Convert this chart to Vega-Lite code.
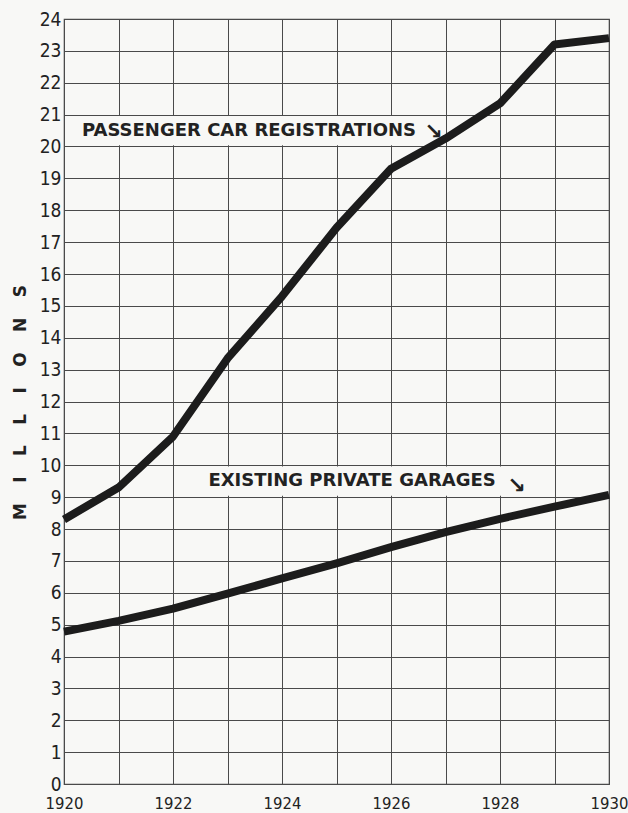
{
  "$schema": "https://vega.github.io/schema/vega-lite/v6.json",
  "width": 545,
  "height": 765,
  "autosize": {"type": "none"},
  "padding": {"left": 64, "top": 19, "right": 19, "bottom": 29},
  "background": "#f8f8f6",
  "config": {
    "view": {"stroke": "#4a4a4a", "strokeWidth": 1.2},
    "axis": {
      "grid": true,
      "gridColor": "#4a4a4a", "gridOpacity": 1, "gridWidth": 1,
      "domain": false, "ticks": false, "labelFlush": false, "labelOverlap": false,
      "labelFont": "DejaVu Sans Condensed", "labelColor": "#222"
    },
    "axisY": {"tickCount": 30},
    "axisX": {"tickCount": 20}
  },
  "datasets": {
    "series": [
      {"year": 1920, "value": 8.3, "series": "Passenger Car Registrations"},
      {"year": 1921, "value": 9.3, "series": "Passenger Car Registrations"},
      {"year": 1922, "value": 10.9, "series": "Passenger Car Registrations"},
      {"year": 1923, "value": 13.35, "series": "Passenger Car Registrations"},
      {"year": 1924, "value": 15.3, "series": "Passenger Car Registrations"},
      {"year": 1925, "value": 17.45, "series": "Passenger Car Registrations"},
      {"year": 1926, "value": 19.3, "series": "Passenger Car Registrations"},
      {"year": 1927, "value": 20.25, "series": "Passenger Car Registrations"},
      {"year": 1928, "value": 21.35, "series": "Passenger Car Registrations"},
      {"year": 1929, "value": 23.2, "series": "Passenger Car Registrations"},
      {"year": 1930, "value": 23.4, "series": "Passenger Car Registrations"},
      {"year": 1920, "value": 4.78, "series": "Existing Private Garages"},
      {"year": 1921, "value": 5.12, "series": "Existing Private Garages"},
      {"year": 1922, "value": 5.5, "series": "Existing Private Garages"},
      {"year": 1923, "value": 5.97, "series": "Existing Private Garages"},
      {"year": 1924, "value": 6.45, "series": "Existing Private Garages"},
      {"year": 1925, "value": 6.92, "series": "Existing Private Garages"},
      {"year": 1926, "value": 7.43, "series": "Existing Private Garages"},
      {"year": 1927, "value": 7.9, "series": "Existing Private Garages"},
      {"year": 1928, "value": 8.32, "series": "Existing Private Garages"},
      {"year": 1929, "value": 8.7, "series": "Existing Private Garages"},
      {"year": 1930, "value": 9.07, "series": "Existing Private Garages"}
    ]
  },
  "layer": [
    {
      "data": {"name": "series"},
      "mark": {"type": "line", "strokeWidth": 8, "strokeJoin": "round", "color": "#1c1c1c", "opacity": 0},
      "encoding": {
        "x": {"field": "year", "type": "quantitative", "scale": {"domain": [1920, 1930], "nice": false, "zero": false},
          "axis": {"values": [1920, 1921, 1922, 1923, 1924, 1925, 1926, 1927, 1928, 1929, 1930], "tickCount": 20, "format": "d", "labelFontSize": 16.5,
            "labelExpr": "datum.value % 2 == 0 ? datum.label : ''", "labelPadding": 11, "title": null}},
        "y": {"field": "value", "type": "quantitative", "scale": {"domain": [0, 24], "nice": false},
          "axis": {"values": [0,1,2,3,4,5,6,7,8,9,10,11,12,13,14,15,16,17,18,19,20,21,22,23,24], "tickCount": 30, "labelPadding": 3, "labelFontSize": 19,
            "title": "M\u2003\u2009I\u2003\u2009L\u2003\u2009L\u2003\u2009I\u2003\u2009O\u2003\u2009N\u2003\u2009S", "titleFont": "DejaVu Sans", "titleFontSize": 17, "titleFontWeight": "bold",
            "titleColor": "#222", "titleX": -44, "titleY": 383, "titleAlign": "center", "titleBaseline": "middle", "titleAngle": -90}},
        "detail": {"field": "series"}
      }
    },
    {
      "data": {"values": [{"label": "box1"}]},
      "mark": {"type": "rect", "fill": "#f8f8f6"},
      "encoding": {
        "x": {"datum": 1920.02, "type": "quantitative"},
        "x2": {"datum": 1926.9},
        "y": {"datum": 20.04, "type": "quantitative"},
        "y2": {"datum": 20.96}
      }
    },
    {
      "data": {"values": [{"label": "box2"}]},
      "mark": {"type": "rect", "fill": "#f8f8f6"},
      "encoding": {
        "x": {"datum": 1922.55, "type": "quantitative"},
        "x2": {"datum": 1928.2},
        "y": {"datum": 9.04, "type": "quantitative"},
        "y2": {"datum": 9.96}
      }
    },
    {
      "data": {"name": "series"},
      "mark": {"type": "line", "strokeWidth": 8, "strokeJoin": "round", "color": "#1c1c1c"},
      "encoding": {
        "x": {"field": "year", "type": "quantitative"},
        "y": {"field": "value", "type": "quantitative"},
        "detail": {"field": "series"}
      }
    },
    {
      "data": {"values": [{"label": "PASSENGER CAR REGISTRATIONS"}]},
      "mark": {"type": "text", "align": "left", "baseline": "middle", "font": "DejaVu Sans", "fontSize": 18, "fontWeight": "bold", "color": "#222"},
      "encoding": {
        "x": {"datum": 1920.33, "type": "quantitative"},
        "y": {"datum": 20.5, "type": "quantitative"},
        "text": {"field": "label"}
      }
    },
    {
      "data": {"values": [{"label": "EXISTING PRIVATE GARAGES"}]},
      "mark": {"type": "text", "align": "left", "baseline": "middle", "font": "DejaVu Sans", "fontSize": 18, "fontWeight": "bold", "color": "#222"},
      "encoding": {
        "x": {"datum": 1922.65, "type": "quantitative"},
        "y": {"datum": 9.5, "type": "quantitative"},
        "text": {"field": "label"}
      }
    },
    {
      "data": {"values": [{"label": "↘"}]},
      "mark": {"type": "text", "align": "center", "baseline": "middle", "font": "DejaVu Sans", "fontSize": 22, "fontWeight": "bold", "color": "#222"},
      "encoding": {
        "x": {"datum": 1926.78, "type": "quantitative"},
        "y": {"datum": 20.45, "type": "quantitative"},
        "text": {"field": "label"}
      }
    },
    {
      "data": {"values": [{"label": "↘"}]},
      "mark": {"type": "text", "align": "center", "baseline": "middle", "font": "DejaVu Sans", "fontSize": 22, "fontWeight": "bold", "color": "#222"},
      "encoding": {
        "x": {"datum": 1928.3, "type": "quantitative"},
        "y": {"datum": 9.35, "type": "quantitative"},
        "text": {"field": "label"}
      }
    }
  ]
}
